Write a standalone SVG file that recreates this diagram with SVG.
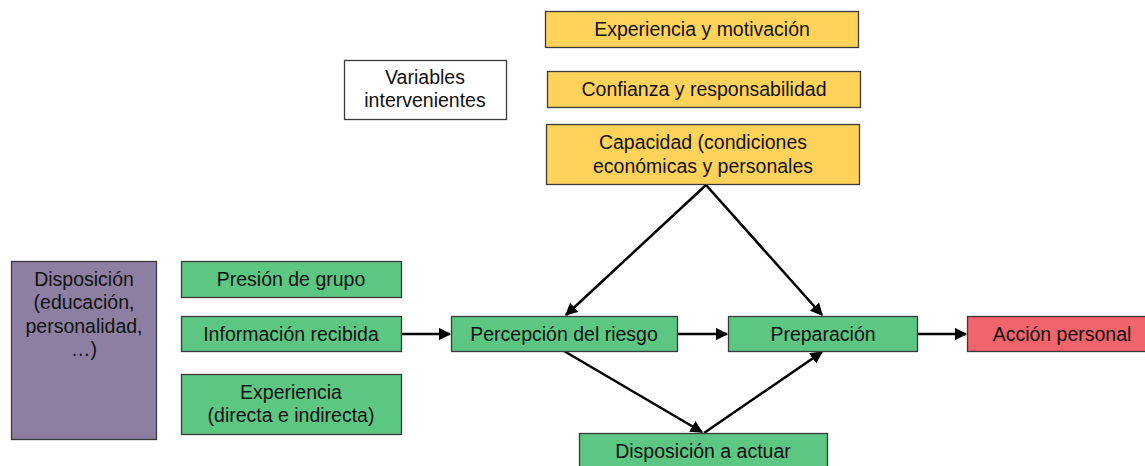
<svg xmlns="http://www.w3.org/2000/svg" width="1145" height="466" viewBox="0 0 1145 466">
<style>
.b{stroke:#3a3a3a;stroke-width:1.3}
.y{fill:#FFD25A}.g{fill:#5CC683}.r{fill:#F2636B}.p{fill:#8D7FA2}.w{fill:#fff}
text{font-family:"Liberation Sans",Arial,sans-serif;font-size:19.5px;fill:#111;text-anchor:middle}
.c line{stroke:#000;stroke-width:2.5;marker-end:url(#a)}
</style>
<defs>
<marker id="a" viewBox="0 0 10 10" refX="9" refY="5" markerWidth="5" markerHeight="5" orient="auto" markerUnits="strokeWidth"><path d="M0,0L10,5L0,10z" fill="#000"/></marker>
</defs>
<rect width="1145" height="466" fill="#fff"/>
<g class="c">
<line x1="706" y1="185" x2="566" y2="315"/>
<line x1="706" y1="185" x2="822" y2="315"/>
<line x1="401" y1="334" x2="450" y2="334"/>
<line x1="677" y1="334" x2="727" y2="334"/>
<line x1="917" y1="334" x2="966" y2="334"/>
<line x1="564" y1="351" x2="702" y2="432"/>
<line x1="704" y1="433" x2="822" y2="352"/>
</g>
<g id="exp-motiv"><rect class="b y" x="545.5" y="11.5" width="313" height="36"/><text x="702" y="36">Experiencia y motivación</text></g>
<g id="confianza"><rect class="b y" x="547.5" y="71.5" width="313" height="36"/><text x="704" y="96">Confianza y responsabilidad</text></g>
<g id="capacidad"><rect class="b y" x="546.5" y="124.5" width="313" height="60"/><text x="703" y="149">Capacidad (condiciones</text><text x="703" y="173">económicas y personales</text></g>
<g id="variables"><rect class="b w" x="344.5" y="60.5" width="162" height="59"/><text x="425" y="84">Variables</text><text x="425" y="107">intervenientes</text></g>
<g id="disposicion"><rect class="b p" x="11.5" y="261.5" width="145" height="178"/><text x="84" y="286">Disposición</text><text x="84" y="309">(educación,</text><text x="84" y="333">personalidad,</text><text x="84" y="356">…)</text></g>
<g id="presion"><rect class="b g" x="181.5" y="261.5" width="220" height="36"/><text x="291" y="286">Presión de grupo</text></g>
<g id="informacion"><rect class="b g" x="181.5" y="316.5" width="220" height="35"/><text x="291" y="341">Información recibida</text></g>
<g id="experiencia"><rect class="b g" x="181.5" y="374.5" width="220" height="60"/><text x="291" y="399">Experiencia</text><text x="291" y="422">(directa e indirecta)</text></g>
<g id="percepcion"><rect class="b g" x="451.5" y="316.5" width="226" height="35"/><text x="564" y="341">Percepción del riesgo</text></g>
<g id="preparacion"><rect class="b g" x="728.5" y="316.5" width="189" height="35"/><text x="823" y="341">Preparación</text></g>
<g id="accion"><rect class="b r" x="967.5" y="316.5" width="180" height="35"/><text x="1062" y="341">Acción personal</text></g>
<g id="disp-actuar"><rect class="b g" x="579.5" y="433.5" width="248" height="40"/><text x="703" y="458">Disposición a actuar</text></g>
</svg>
